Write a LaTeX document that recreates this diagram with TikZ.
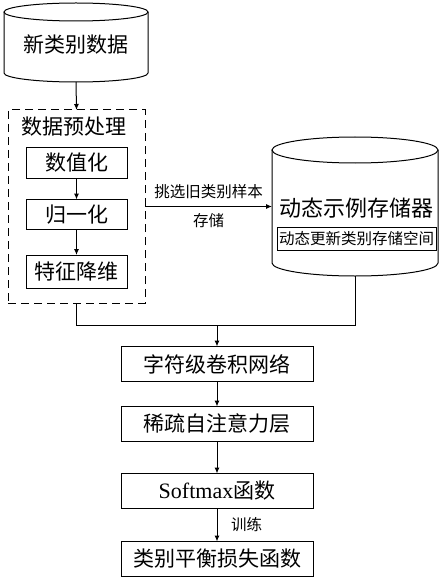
\documentclass[tikz,border=0pt]{standalone}
\usepackage{fontspec}
\setmainfont{Liberation Serif}
\newfontfamily\cjk{Noto Sans CJK SC}
\usetikzlibrary{arrows.meta}
\begin{document}
\begin{tikzpicture}[x=1pt,y=-1pt,line width=1pt,
  every node/.style={inner sep=0pt,outer sep=0pt},
  bigfont/.style={font=\cjk\fontsize{21}{21}\selectfont},
  smallfont/.style={font=\cjk\fontsize{15.5}{15.5}\selectfont},
  frame/.style={draw=none},
  mainbox/.style={draw,bigfont,minimum width=192pt,minimum height=35pt},
  subbox/.style={draw,bigfont,minimum width=101pt,minimum height=30pt},
  groupbox/.style={draw,dash pattern=on 8pt off 5pt,minimum width=137pt,minimum height=193pt},
  arr/.style={-{Latex[length=6pt,width=5pt]}}]
\useasboundingbox (0,0) rectangle (441,588);

% new data cylinder
\node[frame,minimum width=144pt,minimum height=79pt] (newdata) at (76,42.5) {};
\draw ([yshift=-9pt]newdata.north) ellipse [x radius=72pt,y radius=9pt];
\draw ([yshift=-9pt]newdata.north west) -- ([yshift=9pt]newdata.south west)
  arc[start angle=180,end angle=360,x radius=72pt,y radius=9pt]
  -- ([yshift=-9pt]newdata.north east);
\node[bigfont] (newdatatext) at (76,45) {新类别数据};

% preprocessing group
\node[groupbox] (prep) at (76.5,206.5) {};
\node[bigfont] (preptitle) at (74,127) {数据预处理};
\node[subbox] (num) at (76.5,163) {数值化};
\node[subbox] (norm) at (76.5,214.5) {归一化};
\node[subbox,minimum height=33pt] (feat) at (76.5,271.5) {特征降维};

% exemplar memory cylinder
\node[frame,minimum width=166pt,minimum height=139pt] (store) at (355,206.5) {};
\draw ([yshift=-13pt]store.north) ellipse [x radius=83pt,y radius=13pt];
\draw ([yshift=-13pt]store.north west) -- ([yshift=13pt]store.south west)
  arc[start angle=180,end angle=360,x radius=83pt,y radius=13pt]
  -- ([yshift=-13pt]store.north east);
\node[font=\cjk\fontsize{22}{22}\selectfont] (storetitle) at (356,208) {动态示例存储器};
\node[draw,smallfont,minimum width=159pt,minimum height=23pt] (storebox) at (356.5,238.5) {动态更新类别存储空间};

% main pipeline
\node[mainbox] (conv) at (217,364) {字符级卷积网络};
\node[mainbox] (sat) at (217,424) {稀疏自注意力层};
\node[mainbox,font=\rmfamily\fontsize{22}{22}\selectfont] (soft) at (217,491) {Softmax{\cjk\fontsize{21}{21}\selectfont 函数}};
\node[mainbox] (loss) at (217,559) {类别平衡损失函数};

% connectors
\draw[arr] (newdata.south) -- (prep.north);
\draw[arr] (num) -- (norm);
\draw[arr] (norm) -- (feat);
\draw[arr] (prep.east) -- node[smallfont,above=8pt] (selectlbl) {挑选旧类别样本}
  node[smallfont,below=7pt] (storelbl) {存储} (store.west);
\coordinate (join) at (217,325);
\draw (prep.south) |- (store.south |- join) -- (store.south);
\draw[arr] (join) -- (conv.north);
\draw[arr] (conv) -- (sat);
\draw[arr] (sat) -- (soft);
\draw[arr] (soft) -- node[smallfont,right=14pt] (trainlbl) {训练} (loss);
\end{tikzpicture}
\end{document}
